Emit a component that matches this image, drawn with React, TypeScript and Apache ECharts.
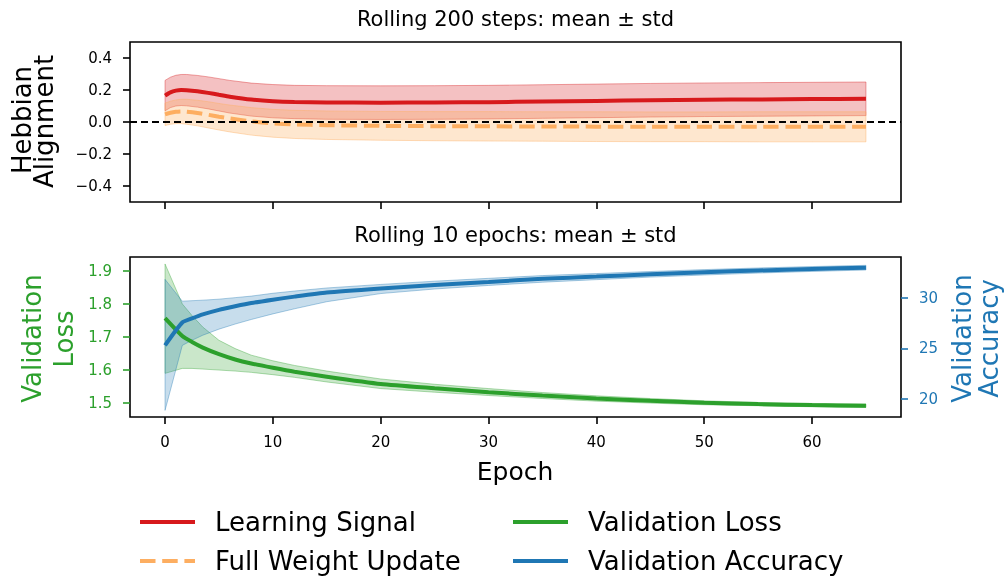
import React, { useEffect, useRef } from "react";
import * as echarts from "echarts";

// ---------- data ----------
const epochsTop = [0, 0.5, 1, 1.5, 2, 3, 4, 5, 6, 8, 10, 12, 15, 20, 25, 30, 35, 40, 45, 50, 55, 60, 65];
const learningSignalMean = [0.165, 0.185, 0.196, 0.2, 0.199, 0.192, 0.182, 0.17, 0.158, 0.14, 0.13, 0.125, 0.122, 0.121, 0.122, 0.124, 0.128, 0.132, 0.136, 0.139, 0.141, 0.143, 0.145];
const learningSignalStd = [0.095, 0.095, 0.096, 0.097, 0.098, 0.099, 0.1, 0.101, 0.102, 0.103, 0.104, 0.104, 0.105, 0.105, 0.105, 0.105, 0.105, 0.105, 0.105, 0.105, 0.105, 0.105, 0.105];
const fullUpdateMean = [0.048, 0.058, 0.064, 0.066, 0.064, 0.056, 0.045, 0.033, 0.022, 0.004, -0.008, -0.015, -0.02, -0.024, -0.026, -0.027, -0.028, -0.029, -0.03, -0.03, -0.03, -0.03, -0.03];
const fullUpdateStd = [0.07, 0.072, 0.074, 0.076, 0.078, 0.08, 0.082, 0.083, 0.084, 0.086, 0.087, 0.088, 0.089, 0.09, 0.091, 0.092, 0.092, 0.093, 0.093, 0.093, 0.094, 0.094, 0.094];

const epochsBottom = [0, 1.6, 2.5, 3.5, 5, 6.5, 8, 10, 12, 15, 20, 25, 30, 35, 40, 45, 50, 55, 60, 65];
const lossMean = [1.757, 1.703, 1.685, 1.668, 1.648, 1.632, 1.62, 1.607, 1.595, 1.58, 1.558, 1.545, 1.533, 1.523, 1.514, 1.507, 1.501, 1.497, 1.494, 1.492];
const lossUpper = [1.921, 1.8, 1.765, 1.73, 1.69, 1.665, 1.645, 1.628, 1.614, 1.597, 1.573, 1.557, 1.544, 1.532, 1.522, 1.514, 1.507, 1.502, 1.499, 1.497];
const lossLower = [1.59, 1.605, 1.605, 1.603, 1.6, 1.597, 1.593, 1.586, 1.578, 1.564, 1.544, 1.533, 1.523, 1.514, 1.506, 1.5, 1.495, 1.492, 1.489, 1.487];
const accMean = [25.3, 27.55, 27.95, 28.35, 28.8, 29.15, 29.47, 29.8, 30.1, 30.5, 30.9, 31.25, 31.55, 31.85, 32.07, 32.3, 32.5, 32.67, 32.82, 32.95];
const accUpper = [31.8, 29.65, 29.7, 29.75, 29.85, 30.0, 30.15, 30.43, 30.65, 30.95, 31.3, 31.62, 31.9, 32.17, 32.37, 32.57, 32.76, 32.92, 33.06, 33.18];
const accLower = [18.9, 25.3, 25.8, 26.3, 26.9, 27.4, 27.85, 28.4, 28.9, 29.6, 30.4, 30.85, 31.2, 31.52, 31.77, 32.02, 32.23, 32.42, 32.58, 32.72];

const xTicks = [0, 10, 20, 30, 40, 50, 60];
const hebbTicks = [-0.4, -0.2, 0, 0.2, 0.4];
const lossTicks = [1.5, 1.6, 1.7, 1.8, 1.9];
const accTicks = [20, 25, 30];

const FONT = "DejaVu Sans";
const RED = [215, 25, 28];
const ORANGE = [253, 174, 97];
const GREEN = [44, 160, 44];
const BLUE = [31, 119, 180];
const rgba = (c: number[], a: number) => `rgba(${c[0]},${c[1]},${c[2]},${a})`;

const SOLID_ICON = "path://M0,0H55V4H0Z";
const DASH_ICON = "path://M0,0H15.5V4H0Z M22.2,0H37.7V4H22.2Z M44.4,0H55V4H44.4Z";

function bandSeries(xs: number[], lower: number[], upper: number[], c: number[], alpha: number, xi: number, yi: number) {
  return {
    type: "custom", xAxisIndex: xi, yAxisIndex: yi, silent: true, z: 1,
    data: xs.map((x, i) => [x, lower[i], upper[i]]),
    encode: { x: 0, y: [1, 2] },
    renderItem: (params: any, api: any) => {
      if (params.dataIndex !== 0) return { type: "group", children: [] };
      const top = xs.map((x, i) => api.coord([x, upper[i]]));
      const bot = xs.map((x, i) => api.coord([x, lower[i]])).reverse();
      return {
        type: "polygon",
        shape: { points: top.concat(bot) },
        style: { fill: rgba(c, alpha), stroke: rgba(c, alpha + 0.12), lineWidth: 1 },
      };
    },
  } as any;
}

function lineSeries(name: string, xs: number[], ys: number[], c: number[], xi: number, yi: number, dashed = false) {
  const col = rgba(c, 1);
  return {
    type: "line", name, xAxisIndex: xi, yAxisIndex: yi, data: xs.map((x, i) => [x, ys[i]]),
    symbol: "none", showSymbol: false, smooth: 0.2, itemStyle: { color: col },
    lineStyle: { color: col, width: 4, type: dashed ? [15.5, 6.7] : "solid" }, z: 3,
  } as any;
}

const minusFmt = (v: number) => (v < 0 ? "\u2212" + (-v).toFixed(1) : v.toFixed(1));

export default function App() {
  const ref = useRef<HTMLDivElement>(null);
  useEffect(() => {
    if (!ref.current) return;
    const chart = echarts.init(ref.current, undefined, { renderer: "svg" });

    const lsLower = learningSignalMean.map((m, i) => m - learningSignalStd[i]);
    const lsUpper = learningSignalMean.map((m, i) => m + learningSignalStd[i]);
    const fuLower = fullUpdateMean.map((m, i) => m - fullUpdateStd[i]);
    const fuUpper = fullUpdateMean.map((m, i) => m + fullUpdateStd[i]);

    const orangeLine = lineSeries("Full Weight Update", epochsTop, fullUpdateMean, ORANGE, 0, 0, true);
    orangeLine.markLine = {
      silent: true, symbol: ["none", "none"], label: { show: false },
      lineStyle: { color: "#000", type: [7, 4], width: 2 }, data: [{ yAxis: 0 }],
    };

    const tickStyle = (color: string) => ({ show: true, inside: false, length: 7, lineStyle: { color, width: 1.6 } });
    const gridBox = { show: true, borderColor: "#000", borderWidth: 1.6, backgroundColor: "rgba(0,0,0,0)" };

    const legendBase = (name: string, icon: string, left: number, top: number) => ({
      data: [{ name, icon }], left, top, padding: 0, itemWidth: 55, itemHeight: 4,
      textStyle: { fontFamily: FONT, fontSize: 26, color: "#000", padding: [0, 0, 0, 15], lineHeight: 30 },
      selectedMode: false,
    });

    const vText = (text: string, x: number, y: number, color: string, size = 26) => ({
      type: "text", x, y, rotation: Math.PI / 2,
      style: { text, fill: color, font: `${size}px ${FONT}`, align: "center", verticalAlign: "middle" },
    });
    const hText = (text: string, x: number, y: number, size: number) => ({
      type: "text", x, y,
      style: { text, fill: "#000", font: `${size}px ${FONT}`, align: "center", verticalAlign: "middle" },
    });

    chart.setOption({
      animation: false,
      grid: [
        { left: 130, top: 42, width: 771, height: 160, ...gridBox },
        { left: 130, top: 257, width: 771, height: 160, ...gridBox },
      ],
      xAxis: [
        {
          gridIndex: 0, type: "value", min: -3.25, max: 68.25,
          axisLine: { show: false, onZero: false },
          axisTick: { ...tickStyle("#000"), customValues: xTicks },
          axisLabel: { show: false }, splitLine: { show: false },
        },
        {
          gridIndex: 1, type: "value", min: -3.25, max: 68.25,
          axisLine: { show: false, onZero: false },
          axisTick: { ...tickStyle("#000"), customValues: xTicks },
          axisLabel: { show: true, customValues: xTicks, margin: 17, fontSize: 15, fontFamily: FONT, color: "#000" },
          splitLine: { show: false },
        },
      ],
      yAxis: [
        {
          gridIndex: 0, type: "value", min: -0.5, max: 0.5, position: "left",
          axisLine: { show: false, onZero: false },
          axisTick: { ...tickStyle("#000"), customValues: hebbTicks },
          axisLabel: { customValues: hebbTicks, formatter: minusFmt, margin: 18, fontSize: 15, fontFamily: FONT, color: "#000" },
          splitLine: { show: false },
        },
        {
          gridIndex: 1, type: "value", min: 1.458, max: 1.942, position: "left",
          axisLine: { show: false, onZero: false },
          axisTick: { ...tickStyle(rgba(GREEN, 1)), customValues: lossTicks },
          axisLabel: { customValues: lossTicks, formatter: (v: number) => v.toFixed(1), margin: 18, fontSize: 15, fontFamily: FONT, color: rgba(GREEN, 1) },
          splitLine: { show: false },
        },
        {
          gridIndex: 1, type: "value", min: 18.25, max: 34.0, position: "right",
          axisLine: { show: false, onZero: false },
          axisTick: { ...tickStyle(rgba(BLUE, 1)), customValues: accTicks },
          axisLabel: { customValues: accTicks, formatter: (v: number) => String(v), margin: 18, fontSize: 15, fontFamily: FONT, color: rgba(BLUE, 1) },
          splitLine: { show: false },
        },
      ],
      legend: [
        legendBase("Learning Signal", SOLID_ICON, 140, 507),
        legendBase("Full Weight Update", DASH_ICON, 140, 546),
        legendBase("Validation Loss", SOLID_ICON, 513, 507),
        legendBase("Validation Accuracy", SOLID_ICON, 513, 546),
      ],
      graphic: [
        hText("Rolling 200 steps: mean \u00b1 std", 515.5, 19, 21),
        hText("Rolling 10 epochs: mean \u00b1 std", 515.5, 235, 21),
        hText("Epoch", 515, 471, 25),
        vText("Hebbian", 22, 120, "#000"),
        vText("Alignment", 44, 121.5, "#000"),
        vText("Validation", 32, 338.5, rgba(GREEN, 1)),
        vText("Loss", 64, 339, rgba(GREEN, 1)),
        vText("Validation", 962, 338.5, rgba(BLUE, 1)),
        vText("Accuracy", 989, 338.5, rgba(BLUE, 1)),
      ],
      series: [
        bandSeries(epochsTop, lsLower, lsUpper, RED, 0.27, 0, 0),
        lineSeries("Learning Signal", epochsTop, learningSignalMean, RED, 0, 0),
        bandSeries(epochsTop, fuLower, fuUpper, ORANGE, 0.3, 0, 0),
        orangeLine,
        bandSeries(epochsBottom, lossLower, lossUpper, GREEN, 0.25, 1, 1),
        lineSeries("Validation Loss", epochsBottom, lossMean, GREEN, 1, 1),
        bandSeries(epochsBottom, accLower, accUpper, BLUE, 0.25, 1, 2),
        lineSeries("Validation Accuracy", epochsBottom, accMean, BLUE, 1, 2),
      ],
    });
    return () => chart.dispose();
  }, []);
  return <div ref={ref} style={{ position: "fixed", left: 0, top: 0, width: 1006, height: 576 }} />;
}
